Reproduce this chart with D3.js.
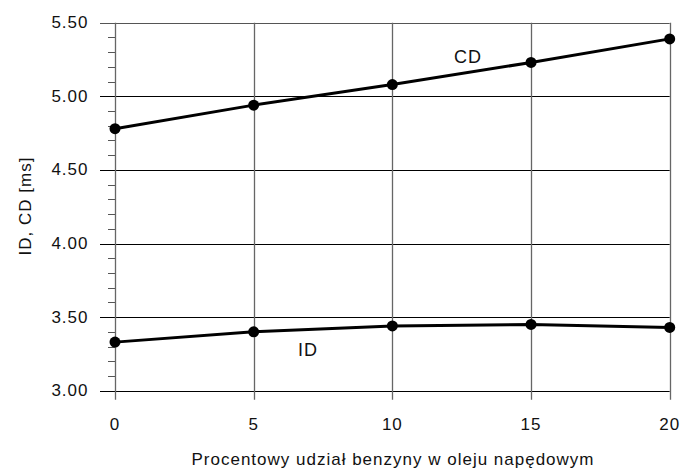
<!DOCTYPE html>
<html><head><meta charset="utf-8">
<script src="https://cdn.jsdelivr.net/npm/d3@7"></script>
<style>body{margin:0;background:#fff}svg{display:block}text{font-family:"Liberation Sans",Arial,sans-serif;fill:#111}</style>
</head><body><svg id="c" width="681" height="468"></svg>
<script>
const xVals = [0, 5, 10, 15, 20];
const cdVals = [4.78, 4.94, 5.08, 5.23, 5.39];
const idVals = [3.33, 3.40, 3.44, 3.45, 3.43];
const yTicks = [3.00, 3.50, 4.00, 4.50, 5.00, 5.50];
const xTitle = "Procentowy udział benzyny w oleju napędowym";
const yTitle = "ID, CD [ms]";

const svg = d3.select("#c");
const L = 115, R = 669.7, T = 22.7, B = 390.7;
const x = d3.scaleLinear().domain([0, 20]).range([L, R]);
const y = d3.scaleLinear().domain([3, 5.5]).range([B, T]);

// minor y ticks
const minor = d3.range(30, 56).map(v => v / 10).filter(v => Math.abs(v * 2 - Math.round(v * 2)) > 1e-6);
svg.append("g").selectAll("line").data(minor).join("line")
  .attr("x1", L - 7).attr("x2", L).attr("y1", d => Math.round(y(d)) + 0.5).attr("y2", d => Math.round(y(d)) + 0.5)
  .attr("stroke", "#555").attr("stroke-width", 1);

// horizontal grid (black)
svg.append("g").selectAll("line").data(yTicks).join("line")
  .attr("x1", L - 15).attr("x2", R).attr("y1", d => Math.round(y(d)) + 0.5).attr("y2", d => Math.round(y(d)) + 0.5)
  .attr("stroke", d => d === 5.5 ? "#555" : "#000").attr("stroke-width", 1);

// vertical grid (gray)
svg.append("g").selectAll("line").data(xVals).join("line")
  .attr("x1", d => Math.round(x(d)) + 0.5).attr("x2", d => Math.round(x(d)) + 0.5)
  .attr("y1", T).attr("y2", B + 9)
  .attr("stroke", "#666").attr("stroke-width", 1.3);

// y tick labels
svg.append("g").selectAll("text").data(yTicks).join("text")
  .attr("x", 88.5).attr("y", d => y(d) + 5.5).attr("text-anchor", "end")
  .attr("font-size", 17).attr("letter-spacing", 1).text(d => d.toFixed(2));

// x tick labels
svg.append("g").selectAll("text").data(xVals).join("text")
  .attr("x", d => x(d)).attr("y", 430).attr("text-anchor", "middle")
  .attr("font-size", 17).attr("letter-spacing", 1).text(d => d);

// axis titles
svg.append("text").attr("x", 393).attr("y", 464.5).attr("text-anchor", "middle")
  .attr("font-size", 17).attr("letter-spacing", 1).text(xTitle);
svg.append("text").attr("transform", "translate(30.5,206) rotate(-90)").attr("text-anchor", "middle")
  .attr("font-size", 17).attr("letter-spacing", 1).text(yTitle);

const line = d3.line().x((d, i) => x(xVals[i])).y(d => y(d));
[cdVals, idVals].forEach(s => {
  svg.append("path").datum(s).attr("d", line).attr("fill", "none")
    .attr("stroke", "#000").attr("stroke-width", 3);
  svg.append("g").selectAll("circle").data(s).join("circle")
    .attr("cx", (d, i) => x(xVals[i])).attr("cy", d => y(d)).attr("r", 5.5).attr("fill", "#000");
});

svg.append("text").attr("x", 468).attr("y", 62.5).attr("text-anchor", "middle").attr("font-size", 18).attr("letter-spacing", 1).text("CD");
svg.append("text").attr("x", 308).attr("y", 356).attr("text-anchor", "middle").attr("font-size", 18).attr("letter-spacing", 1).text("ID");
</script></body></html>
